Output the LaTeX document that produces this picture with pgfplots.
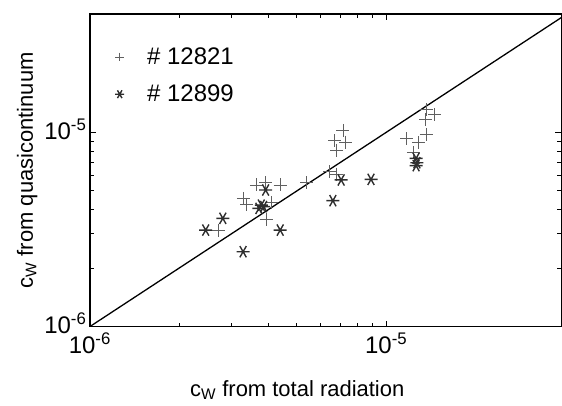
\documentclass[border=0pt]{standalone}
\usepackage{fontspec}
\setmainfont{Liberation Sans}
\usepackage{amsmath}
\usepackage{pgfplots}
\pgfplotsset{compat=1.18}

\definecolor{plusgray}{HTML}{606060}
\definecolor{stargray}{HTML}{2E2E2E}

\begin{document}
\begin{tikzpicture}
\begin{axis}[
  name=ax,
  xmode=log, ymode=log,
  scale only axis,
  width=472pt, height=313pt,
  xmin=1e-6, xmax=3.9e-5,
  ymin=1e-6, ymax=4.07e-5,
  xtick={1e-6,1e-5}, ytick={1e-6,1e-5},
  xticklabels={10\textsuperscript{-6},10\textsuperscript{-5}},
  yticklabels={10\textsuperscript{-6},10\textsuperscript{-5}},
  tick label style={font=\fontsize{24}{28}\selectfont},
  xticklabel style={yshift=-3pt},
  yticklabel style={yshift=3pt},
  major tick length=6pt, minor tick length=4pt,
  axis line style={line width=1.4pt},
  every tick/.style={black, line width=1pt},
  xlabel={c$_\text{W}$ from total radiation},
  ylabel={c$_\text{W}$ from quasicontinuum},
  label style={font=\fontsize{22}{26}\selectfont},
  xlabel style={at={(axis description cs:0.44,-0.2236)}, anchor=base},
  ylabel style={at={(axis description cs:-0.121,0.5)}, anchor=base},
  legend style={at={(axis description cs:0.047,0.905)}, anchor=north west,
    draw=none, fill=none, font=\fontsize{24}{28}\selectfont,
    row sep=15pt,
    /tikz/every odd column/.append style={column sep=21pt}},
  legend cell align=left,
  legend image post style={mark size=4.5pt},
]
\addplot[black, line width=1.3pt, forget plot] coordinates {(1e-6,1e-6) (3.9e-5,3.9e-5)};

\addplot[only marks, mark=+, mark size=6.5pt, color=plusgray, line width=0.9pt] coordinates {
  (1.364e-5,1.313e-5) (1.456e-5,1.238e-5) (1.358e-5,1.166e-5) (1.364e-5,9.77e-6)
  (1.174e-5,9.28e-6) (1.288e-5,8.85e-6) (1.236e-5,7.86e-6)
  (7.15e-6,1.024e-5) (6.70e-6,9.06e-6) (7.30e-6,8.91e-6) (6.82e-6,8.11e-6)
  (6.45e-6,6.28e-6) (6.78e-6,6.10e-6) (5.40e-6,5.51e-6)
  (4.39e-6,5.36e-6) (3.65e-6,5.36e-6) (3.92e-6,5.51e-6)
  (3.30e-6,4.57e-6) (3.38e-6,4.27e-6) (4.09e-6,4.34e-6) (3.94e-6,3.58e-6)
  (2.71e-6,3.14e-6)
};
\addlegendentry{\# 12821}

\addplot[only marks, mark=asterisk, mark size=6.5pt, color=stargray, line width=1.4pt,
  mark options={rotate=90}] coordinates {
  (1.262e-5,7.35e-6) (1.27e-5,6.98e-6) (1.262e-5,6.74e-6)
  (8.89e-6,5.73e-6) (7.05e-6,5.69e-6) (6.61e-6,4.45e-6)
  (3.92e-6,5.05e-6) (3.79e-6,4.22e-6) (3.72e-6,4.06e-6) (3.86e-6,4.15e-6)
  (2.81e-6,3.61e-6) (2.46e-6,3.14e-6) (4.39e-6,3.14e-6) (3.29e-6,2.43e-6)
};
\addlegendentry{\# 12899}
\end{axis}
\path (ax.south west) ++(-90pt,-79pt) rectangle ([yshift=14pt]ax.north east);
\end{tikzpicture}
\end{document}
